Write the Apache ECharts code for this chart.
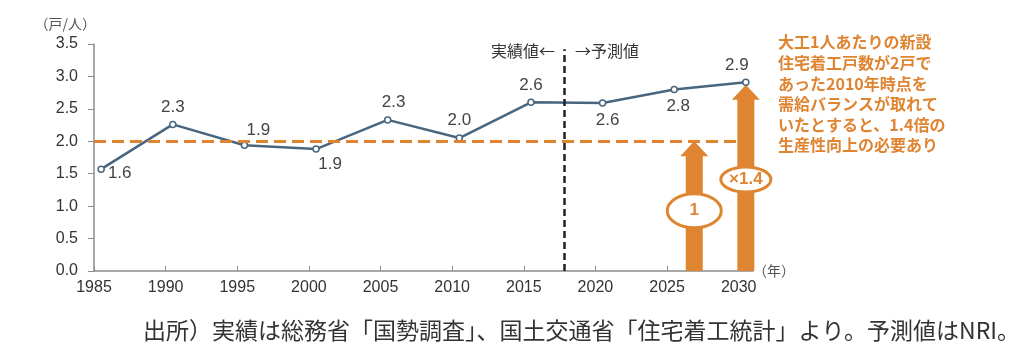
<!DOCTYPE html>
<html>
<head>
<meta charset="utf-8">
<script src="https://cdn.jsdelivr.net/npm/echarts@6/dist/echarts.min.js"></script>
<style>
  html, body { margin: 0; background: #fff; }
  #chart { width: 1024px; height: 353px; }
</style>
</head>
<body>
<div id="chart"></div>
<script>
// data
const years = [1985, 1990, 1995, 2000, 2005, 2010, 2015, 2020, 2025, 2030];
const housesPerCarpenter = [1.57, 2.26, 1.94, 1.88, 2.33, 2.05, 2.60, 2.59, 2.80, 2.91];
const pointLabels = ["1.6", "2.3", "1.9", "1.9", "2.3", "2.0", "2.6", "2.6", "2.8", "2.9"];
const balanceLevel = 2.0;
const splitYear = 2017.3;
const splitTop = 3.42;
const arrowYears = [2026.4, 2030];
const arrowTops = [2.0, 2.87];
const badgeLevels = [0.93, 1.41];
const badgeTexts = ["1", "×1.4"];
const noteLines = [
  "大工1人あたりの新設",
  "住宅着工戸数が2戸で",
  "あった2010年時点を",
  "需給バランスが取れて",
  "いたとすると、1.4倍の",
  "生産性向上の必要あり",
];
const sourceText = "出所）実績は総務省「国勢調査」、国土交通省「住宅着工統計」より。予測値はNRI。";

const ORANGE = "#df8431";
const LINE = "#48667f";
const LATIN = "'Liberation Sans', Arial, sans-serif";
const JP = "'Noto Sans CJK JP', sans-serif";

// where each value label sits relative to its point
const labelPlace = [
  { position: "right", offset: [-2, 4] },
  { position: "top" },
  { position: "top", offset: [14, 2] },
  { position: "bottom", offset: [14, -2] },
  { position: "top", offset: [6, 0] },
  { position: "top" },
  { position: "top" },
  { position: "bottom", offset: [5, 0] },
  { position: "bottom", offset: [4, 0] },
  { position: "top", offset: [-9, 0] },
];
const badgeSize = [[27, 17], [25, 12.5]];

const chart = echarts.init(document.getElementById("chart"), null, { renderer: "canvas" });

chart.setOption({
  animation: false,
  backgroundColor: "#fff",
  textStyle: { fontFamily: LATIN },
  grid: { left: 94, right: 271, top: 44, bottom: 82 },
  xAxis: [
    {
      type: "value",
      min: 1985,
      max: 2031,
      interval: 5,
      name: "（年）",
      nameLocation: "end",
      nameGap: 0,
      nameTextStyle: { fontFamily: JP, fontSize: 14, color: "#555", verticalAlign: "middle" },
      axisLine: { lineStyle: { color: "#8c8c8c", width: 1.5 } },
      axisTick: { inside: true, length: 5, customValues: years, lineStyle: { color: "#8c8c8c" } },
      axisLabel: { customValues: years, margin: 9, fontSize: 16, color: "#333", formatter: (v) => String(v) },
      splitLine: { show: false },
    },
    { type: "value", min: 1984.5, max: 2030.5, show: false },
  ],
  yAxis: {
    type: "value",
    min: 0,
    max: 3.5,
    interval: 0.5,
    name: "（戸/人）",
    nameLocation: "end",
    nameGap: 13,
    nameTextStyle: { fontFamily: JP, fontSize: 14, color: "#555", align: "right", padding: [0, -2, 0, 0] },
    axisLine: { show: true, lineStyle: { color: "#8c8c8c", width: 1.5 } },
    axisTick: { show: true, length: 6, lineStyle: { color: "#8c8c8c" } },
    axisLabel: { margin: 16, fontSize: 16, color: "#333", formatter: (v) => v.toFixed(1) },
    splitLine: { show: false },
  },
  series: [
    {
      type: "custom",
      xAxisIndex: 1,
      z: 3,
      data: arrowYears.map((x, i) => [x, 0, arrowTops[i], badgeLevels[i]]),
      renderItem(params, api) {
        const base = api.coord([api.value(0), api.value(1)]);
        const tip = api.coord([api.value(0), api.value(2)]);
        const badge = api.coord([api.value(0), api.value(3)]);
        const cx = base[0];
        const sw = 8.5, hw = 14, hh = 15;
        const [rx, ry] = badgeSize[params.dataIndex];
        return {
          type: "group",
          children: [
            {
              type: "polygon",
              shape: {
                points: [
                  [cx - sw, base[1]], [cx - sw, tip[1] + hh], [cx - hw, tip[1] + hh],
                  [cx, tip[1]], [cx + hw, tip[1] + hh], [cx + sw, tip[1] + hh], [cx + sw, base[1]],
                ],
              },
              style: { fill: ORANGE },
            },
            {
              type: "ellipse",
              shape: { cx: badge[0], cy: badge[1], rx, ry },
              style: { fill: "#fff", stroke: ORANGE, lineWidth: 3 },
            },
            {
              type: "text",
              x: badge[0],
              y: badge[1],
              style: {
                text: badgeTexts[params.dataIndex],
                align: "center",
                verticalAlign: "middle",
                fill: ORANGE,
                font: "bold 17px " + LATIN,
              },
            },
          ],
        };
      },
    },
    {
      type: "line",
      xAxisIndex: 1,
      z: 4,
      data: years.map((y, i) => ({
        value: [y, housesPerCarpenter[i]],
        label: Object.assign({ formatter: pointLabels[i] }, labelPlace[i]),
      })),
      symbol: "circle",
      symbolSize: 6,
      lineStyle: { color: LINE, width: 2.5 },
      itemStyle: { color: "#fff", borderColor: LINE, borderWidth: 1.5 },
      label: { show: true, fontSize: 17, color: "#444", distance: 5 },
      markLine: {
        silent: true,
        symbol: "none",
        label: { show: false },
        data: [
          { yAxis: balanceLevel, lineStyle: { color: ORANGE, width: 3, type: [12, 6] } },
          [
            { coord: [splitYear, 0], lineStyle: { color: "#222", width: 2.5, type: [7, 4] } },
            { coord: [splitYear, splitTop] },
          ],
        ],
      },
    },
  ],
  graphic: [
    {
      type: "text",
      right: 1024 - 555,
      top: 43,
      style: { text: "実績値←", font: "16px " + JP, fill: "#333" },
    },
    {
      type: "text",
      left: 575,
      top: 43,
      style: { text: "→予測値", font: "16px " + JP, fill: "#333" },
    },
    {
      type: "text",
      left: 778,
      top: 32,
      style: { text: noteLines.join("\n"), font: "bold 16px " + JP, lineHeight: 20.6, fill: ORANGE },
    },
    {
      type: "text",
      left: 143,
      top: 319,
      style: { text: sourceText, font: "23px " + JP, fill: "#333" },
    },
  ],
});
</script>
</body>
</html>
